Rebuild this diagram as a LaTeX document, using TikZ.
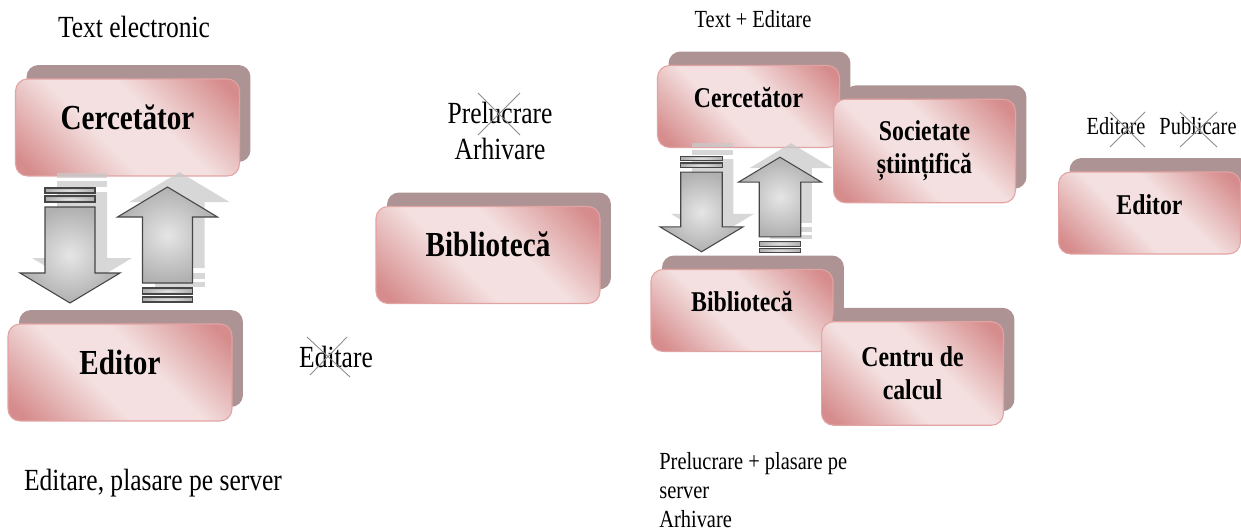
\documentclass[tikz,border=0pt]{standalone}
\usepackage{fontspec}
\setmainfont{Liberation Serif}[FakeStretch=0.83]
\usetikzlibrary{positioning,shadows}

\definecolor{rosedk}{HTML}{D68C8C}
\definecolor{roselt}{HTML}{F4E0E0}
\definecolor{rosebd}{HTML}{E2A3A3}
\definecolor{mauve}{HTML}{AD9393}
\definecolor{crossgray}{HTML}{8C8C8C}

\pgfdeclareverticalshading{rosediag}{100bp}{color(0bp)=(rosedk); color(19bp)=(rosedk);
  color(42bp)=(roselt); color(58bp)=(roselt); color(81bp)=(rosedk); color(100bp)=(rosedk)}

\tikzset{
  boxbase/.style={rounded corners=0.24cm, draw=rosebd, line width=0.6pt,
    shading=rosediag, shading angle=-45,
    general shadow={shadow xshift=0.22cm, shadow yshift=0.28cm, fill=mauve},
    align=center, inner sep=0pt},
  bigbox/.style={boxbase, minimum width=4.48cm, minimum height=1.94cm,
    font=\bfseries\fontsize{20}{24}\selectfont, text height=14pt, text depth=12pt},
  smallbox/.style={boxbase, minimum width=3.64cm,
    font=\bfseries\fontsize{16.3}{19}\selectfont},
  oneline/.style={minimum height=1.64cm, text height=11.4pt, text depth=10pt},
  twoline/.style={minimum height=2.07cm},
  plaintext/.style={inner sep=0pt, align=center, font=\fontsize{17.5}{21}\selectfont},
  smalltext/.style={inner sep=0pt, align=left, font=\fontsize{14}{16.5}\selectfont},
  xmark/.style={draw=crossgray, line width=0.5pt},
  arrowmain/.style={draw=gray!55!black, line width=0.6pt, inner color=gray!20, outer color=gray!62},
  arrowghost/.style={fill=gray!42, opacity=0.75},
  pics/blockarr/.style={code={
    \path[#1] (-25,1) rectangle (25,6);
    \path[#1] (-25,9) rectangle (25,15);
    \path[#1] (-25,20) -- (25,20) -- (25,86) -- (50,86) -- (0,116) -- (-50,86) -- (-25,86) -- cycle;
  }},
}

\begin{document}
\begin{tikzpicture}[x=0.02cm, y=-0.02cm]
  \useasboundingbox (0,0) rectangle (1241,531);

  % left: researcher and editor
  \node[plaintext] (txtel) at (134,27) {Text electronic};
  \node[bigbox, shade] (lcerc) at (127.5,127.5) {Cercetător};
  \node[bigbox, shade] (ledit) at (120,372.5) {Editor};
  \node[plaintext] (edplas) at (153,483) {Editare, plasare pe server};
  \pic at (82,172) {blockarr=arrowghost};
  \pic at (70,187) {blockarr=arrowmain};
  \pic[yscale=-1] at (179.5,288) {blockarr=arrowghost};
  \pic[yscale=-1] at (167.5,303) {blockarr=arrowmain};

  % middle: library
  \node[plaintext] (prelarh) at (500,131) {Prelucrare\\Arhivare};
  \node[bigbox, shade] (mbib) at (488,255) {Bibliotecă};
  \node[plaintext] (edmid) at (336,357) {Editare};
  \draw[xmark] (478,93) -- (520,135) (520,93) -- (478,135);
  \draw[xmark] (307,337) -- (350,377) (347,337) -- (310,375);

  % right: the new chain
  \node[smalltext] (txted) at (753,19) {Text + Editare};
  \node[smallbox, shade, oneline] (rcerc) at (748.5,106.5) {Cercetător};
  \node[smallbox, shade, twoline] (rsoc) at (924.5,151) {Societate\\științifică};
  \node[smallbox, shade, oneline] (rbib) at (742,310.5) {Bibliotecă};
  \node[smallbox, shade, twoline] (rcalc) at (912.5,373.5) {Centru de\\calcul};
  \node[smalltext, anchor=west] (prelsrv) at (659,490) {Prelucrare + plasare pe\\server\\Arhivare};
  \pic[scale=0.83] at (712.5,142.5) {blockarr=arrowghost};
  \pic[scale=0.83] at (701.5,155.5) {blockarr=arrowmain};
  \pic[scale=0.83, yscale=-1] at (791,239.5) {blockarr=arrowghost};
  \pic[scale=0.83, yscale=-1] at (780,253.5) {blockarr=arrowmain};

  \node[smalltext] (edr) at (1116,126) {Editare};
  \node[smalltext] (pubr) at (1198,126) {Publicare};
  \node[smallbox, shade, oneline] (redit) at (1149.5,213) {Editor};
  \draw[xmark] (1110,112) -- (1145,147) (1145,112) -- (1110,147);
  \draw[xmark] (1180,112) -- (1217,147) (1217,112) -- (1180,147);
\end{tikzpicture}
\end{document}
